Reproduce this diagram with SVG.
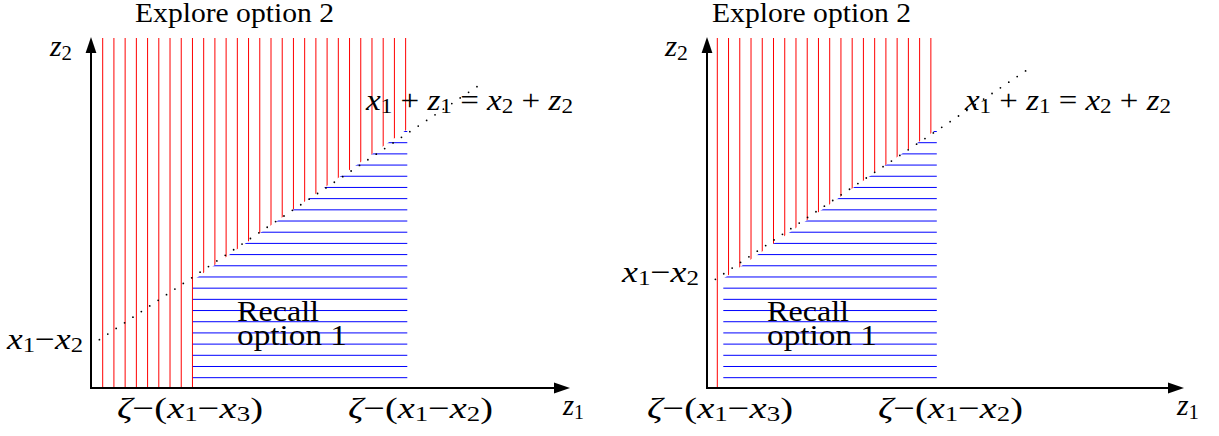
<svg xmlns="http://www.w3.org/2000/svg" width="1219" height="436" viewBox="0 0 1219 436">
  <style>
    .txt { font-family: "Liberation Serif", "Times New Roman", serif; fill: #000; }
    .title { font-size: 27px; }
    .body { font-size: 29px; }
    .m { font-size: 30px; }
    .i { font-style: italic; }
    .sb { font-size: 21px; }
    .red { stroke: #ff0000; stroke-width: 1; fill: none; }
    .blue { stroke: #0000ff; stroke-width: 1; fill: none; }
    .axis { stroke: #000; stroke-width: 2; fill: none; }
    .dots { stroke: #000; stroke-width: 1.8; stroke-linecap: round; stroke-dasharray: 0 10.1; fill: none; }
  </style>
  <defs>
    <marker id="arrow" markerUnits="userSpaceOnUse" viewBox="0 -6 16 12" markerWidth="16" markerHeight="12" refX="0" refY="0" orient="auto">
      <path d="M0,-5.4 L16,0 L0,5.4 Z" fill="#000"/>
    </marker>
    <clipPath id="clipRedL"><polygon points="90,37 408,37 408,128.7 193.2,280.2 193.2,389 90,389"/></clipPath>
    <clipPath id="clipBlueL"><polygon points="192.2,280.9 408,128.7 408,389 192.2,389"/></clipPath>
    <clipPath id="clipRedR"><polygon points="706,37 937.5,37 937.5,128.8 723.2,278.8 723.2,389 706,389"/></clipPath>
    <clipPath id="clipBlueR"><polygon points="722.8,279.1 937.5,128.8 937.5,389 722.8,389"/></clipPath>
  </defs>

  <!-- Left panel -->
  <g id="panel-left">
    <g id="left-red-hatch" clip-path="url(#clipRedL)">
      <path class="red" d="M102.7 38V388M113.92 38V388M125.14 38V388M136.36 38V388M147.58 38V388M158.8 38V388M170.02 38V388M181.24 38V388M192.46 38V388M203.68 38V388M214.9 38V388M226.12 38V388M237.34 38V388M248.56 38V388M259.78 38V388M271 38V388M282.22 38V388M293.44 38V388M304.66 38V388M315.88 38V388M327.1 38V388M338.32 38V388M349.54 38V388M360.76 38V388M371.98 38V388M383.2 38V388M394.42 38V388M405.64 38V388"/>
    </g>
    <g id="left-blue-hatch" clip-path="url(#clipBlueL)">
      <path class="blue" d="M192.7 131.5H407.3M192.7 142.69H407.3M192.7 153.88H407.3M192.7 165.07H407.3M192.7 176.26H407.3M192.7 187.45H407.3M192.7 198.64H407.3M192.7 209.83H407.3M192.7 221.02H407.3M192.7 232.21H407.3M192.7 243.4H407.3M192.7 254.59H407.3M192.7 265.78H407.3M192.7 276.97H407.3M192.7 288.16H407.3M192.7 299.35H407.3M192.7 310.54H407.3M192.7 321.73H407.3M192.7 332.92H407.3M192.7 344.11H407.3M192.7 355.3H407.3M192.7 366.49H407.3M192.7 377.68H407.3"/>
    </g>
    <g id="left-axes">
      <path class="axis" d="M91 389V53" marker-end="url(#arrow)"/>
      <path class="axis" d="M90 388H554" marker-end="url(#arrow)"/>
    </g>
    <path id="left-diagonal" class="dots" d="M91 345.3L478 86"/>
    <g id="left-labels" class="txt">
      <text class="title" x="135" y="22" textLength="199" lengthAdjust="spacingAndGlyphs">Explore option 2</text>
      <text class="m" x="50" y="56" textLength="22" lengthAdjust="spacingAndGlyphs"><tspan class="i">z</tspan><tspan class="sb" dy="4">2</tspan></text>
      <text class="m" x="366" y="110" textLength="207" lengthAdjust="spacingAndGlyphs"><tspan class="i">x</tspan><tspan class="sb" dy="3">1</tspan><tspan dy="-3"> + </tspan><tspan class="i">z</tspan><tspan class="sb" dy="3">1</tspan><tspan dy="-3"> = </tspan><tspan class="i">x</tspan><tspan class="sb" dy="3">2</tspan><tspan dy="-3"> + </tspan><tspan class="i">z</tspan><tspan class="sb" dy="3">2</tspan></text>
      <text class="m" x="7" y="349" textLength="76" lengthAdjust="spacingAndGlyphs"><tspan class="i">x</tspan><tspan class="sb" dy="3">1</tspan><tspan dy="-3">−</tspan><tspan class="i">x</tspan><tspan class="sb" dy="3">2</tspan></text>
      <text class="body"><tspan x="237" y="321" textLength="82" lengthAdjust="spacingAndGlyphs">Recall</tspan><tspan x="237" y="345" textLength="110" lengthAdjust="spacingAndGlyphs">option 1</tspan></text>
      <text class="m" x="117" y="418" textLength="146" lengthAdjust="spacingAndGlyphs"><tspan class="i">ζ</tspan><tspan>−(</tspan><tspan class="i">x</tspan><tspan class="sb" dy="3">1</tspan><tspan dy="-3">−</tspan><tspan class="i">x</tspan><tspan class="sb" dy="3">3</tspan><tspan dy="-3">)</tspan></text>
      <text class="m" x="348" y="418" textLength="145" lengthAdjust="spacingAndGlyphs"><tspan class="i">ζ</tspan><tspan>−(</tspan><tspan class="i">x</tspan><tspan class="sb" dy="3">1</tspan><tspan dy="-3">−</tspan><tspan class="i">x</tspan><tspan class="sb" dy="3">2</tspan><tspan dy="-3">)</tspan></text>
      <text class="m" x="563" y="415" textLength="21" lengthAdjust="spacingAndGlyphs"><tspan class="i">z</tspan><tspan class="sb" dy="4">1</tspan></text>
    </g>
  </g>

  <!-- Right panel -->
  <g id="panel-right">
    <g id="right-red-hatch" clip-path="url(#clipRedR)">
      <path class="red" d="M717.3 38V388M728.54 38V388M739.78 38V388M751.02 38V388M762.26 38V388M773.5 38V388M784.74 38V388M795.98 38V388M807.22 38V388M818.46 38V388M829.7 38V388M840.94 38V388M852.18 38V388M863.42 38V388M874.66 38V388M885.9 38V388M897.14 38V388M908.38 38V388M919.62 38V388M930.86 38V388"/>
    </g>
    <g id="right-blue-hatch" clip-path="url(#clipBlueR)">
      <path class="blue" d="M723.3 131.5H936.8M723.3 142.69H936.8M723.3 153.88H936.8M723.3 165.07H936.8M723.3 176.26H936.8M723.3 187.45H936.8M723.3 198.64H936.8M723.3 209.83H936.8M723.3 221.02H936.8M723.3 232.21H936.8M723.3 243.4H936.8M723.3 254.59H936.8M723.3 265.78H936.8M723.3 276.97H936.8M723.3 288.16H936.8M723.3 299.35H936.8M723.3 310.54H936.8M723.3 321.73H936.8M723.3 332.92H936.8M723.3 344.11H936.8M723.3 355.3H936.8M723.3 366.49H936.8M723.3 377.68H936.8"/>
    </g>
    <g id="right-axes">
      <path class="axis" d="M707 389V53" marker-end="url(#arrow)"/>
      <path class="axis" d="M706 388H1168" marker-end="url(#arrow)"/>
    </g>
    <path id="right-diagonal" class="dots" d="M707 285L1031 67.3"/>
    <g id="right-labels" class="txt">
      <text class="title" x="712" y="22" textLength="199" lengthAdjust="spacingAndGlyphs">Explore option 2</text>
      <text class="m" x="665" y="56" textLength="23" lengthAdjust="spacingAndGlyphs"><tspan class="i">z</tspan><tspan class="sb" dy="4">2</tspan></text>
      <text class="m" x="965" y="110" textLength="206" lengthAdjust="spacingAndGlyphs"><tspan class="i">x</tspan><tspan class="sb" dy="3">1</tspan><tspan dy="-3"> + </tspan><tspan class="i">z</tspan><tspan class="sb" dy="3">1</tspan><tspan dy="-3"> = </tspan><tspan class="i">x</tspan><tspan class="sb" dy="3">2</tspan><tspan dy="-3"> + </tspan><tspan class="i">z</tspan><tspan class="sb" dy="3">2</tspan></text>
      <text class="m" x="622" y="282" textLength="77" lengthAdjust="spacingAndGlyphs"><tspan class="i">x</tspan><tspan class="sb" dy="3">1</tspan><tspan dy="-3">−</tspan><tspan class="i">x</tspan><tspan class="sb" dy="3">2</tspan></text>
      <text class="body"><tspan x="767" y="321" textLength="82" lengthAdjust="spacingAndGlyphs">Recall</tspan><tspan x="767" y="345" textLength="110" lengthAdjust="spacingAndGlyphs">option 1</tspan></text>
      <text class="m" x="647" y="418" textLength="146" lengthAdjust="spacingAndGlyphs"><tspan class="i">ζ</tspan><tspan>−(</tspan><tspan class="i">x</tspan><tspan class="sb" dy="3">1</tspan><tspan dy="-3">−</tspan><tspan class="i">x</tspan><tspan class="sb" dy="3">3</tspan><tspan dy="-3">)</tspan></text>
      <text class="m" x="878" y="418" textLength="145" lengthAdjust="spacingAndGlyphs"><tspan class="i">ζ</tspan><tspan>−(</tspan><tspan class="i">x</tspan><tspan class="sb" dy="3">1</tspan><tspan dy="-3">−</tspan><tspan class="i">x</tspan><tspan class="sb" dy="3">2</tspan><tspan dy="-3">)</tspan></text>
      <text class="m" x="1177" y="415" textLength="22" lengthAdjust="spacingAndGlyphs"><tspan class="i">z</tspan><tspan class="sb" dy="4">1</tspan></text>
    </g>
  </g>
</svg>
